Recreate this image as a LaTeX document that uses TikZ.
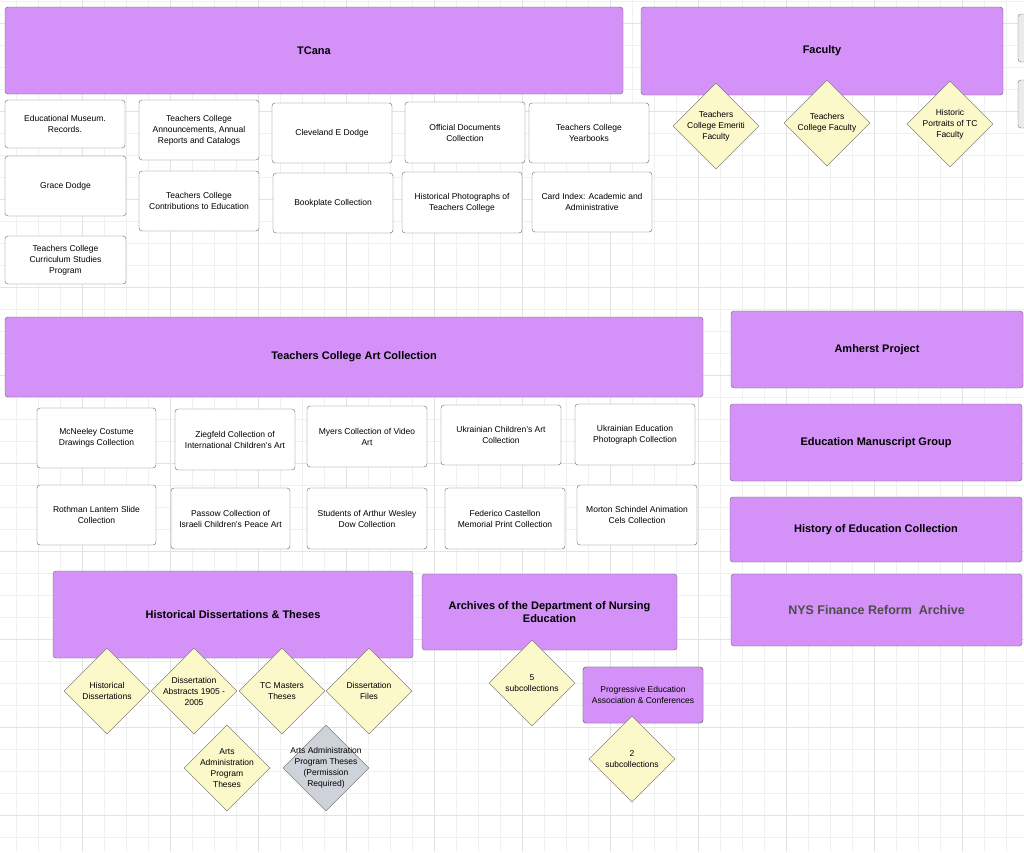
\documentclass[tikz,border=0pt]{standalone}
\usepackage{fontspec}
\setmainfont{Liberation Sans}
\usetikzlibrary{shapes.geometric}
\definecolor{purp}{HTML}{D492F9}
\definecolor{dia}{HTML}{FBF8C9}
\definecolor{gdia}{HTML}{CED3DA}
\tikzset{
 x=1pt,y=-1pt,
 big/.style={draw=black!60,fill=purp,rounded corners=3pt,font=\bfseries\fontsize{11}{13}\selectfont,align=center},
 sm/.style={draw=black!60,fill=white,rounded corners=3pt,font=\fontsize{8.5}{11}\selectfont,align=center},
 dm/.style={draw=black!60,fill=dia,diamond,minimum width=86pt,minimum height=86pt,inner sep=-30pt,font=\fontsize{8.5}{11}\selectfont,align=center},
}
\newcommand\bx[6]{\node[#1,minimum width=#4-#2,minimum height=#5-#3,inner sep=1pt] (#6) at ({(#2+#4)/2},{(#3+#5)/2})}
\begin{document}
\begin{tikzpicture}
\useasboundingbox (0,0) rectangle (1024,852);
\fill[white] (0,0) rectangle (1024,852);
\foreach \i in {0,...,46} {\pgfmathsetmacro\xx{16.7+22*\i}\draw[black!6,line width=.7pt] (\xx,0) -- (\xx,852);}
\foreach \i in {0,...,38} {\pgfmathsetmacro\yy{1+22*\i}\draw[black!6,line width=.7pt] (0,\yy) -- (1024,\yy);}
\foreach \i in {0,...,11} {\pgfmathsetmacro\xx{82.7+88*\i}\draw[black!11,line width=.7pt] (\xx,0) -- (\xx,852);}
\foreach \i in {0,...,9} {\pgfmathsetmacro\yy{23+88*\i}\draw[black!11,line width=.7pt] (0,\yy) -- (1024,\yy);}
\draw[black!55,fill=black!8,rounded corners=3pt] (1018,14) rectangle (1030,62);
\draw[black!55,fill=black!8,rounded corners=3pt] (1018,80) rectangle (1030,128);
\bx{big}{5}{7}{623}{94}{tcana} {TCana};
\bx{big}{641}{7}{1003}{95}{fac} {Faculty};
\bx{sm}{5}{100}{125}{148}{a1} {Educational Museum.\\Records.};
\bx{sm}{5}{156}{126}{216}{a2} {Grace Dodge};
\bx{sm}{5}{236}{126}{284}{a3} {Teachers College\\Curriculum Studies\\Program};
\bx{sm}{139}{100}{259}{160}{b1} {Teachers College\\Announcements, Annual\\Reports and Catalogs};
\bx{sm}{139}{171}{259}{231}{b2} {Teachers College\\Contributions to Education};
\bx{sm}{272}{103}{392}{163}{c1} {Cleveland E Dodge};
\bx{sm}{273}{173}{393}{233}{c2} {Bookplate Collection};
\bx{sm}{405}{102}{525}{163}{d1} {Official Documents\\Collection};
\bx{sm}{402}{172}{522}{233}{d2} {Historical Photographs of\\Teachers College};
\bx{sm}{529}{103}{649}{163}{e1} {Teachers College\\Yearbooks};
\bx{sm}{532}{172}{652}{232}{e2} {Card Index: Academic and\\Administrative};
\node[dm] (f1) at (716,126) {Teachers\\College Emeriti\\Faculty};
\node[dm] (f2) at (827,123) {Teachers\\College Faculty};
\node[dm] (f3) at (950,124) {Historic\\Portraits of TC\\Faculty};
\bx{big}{5}{317}{703}{397}{art} {Teachers College Art Collection};
\bx{big}{731}{311}{1023}{388}{amh} {Amherst Project};
\bx{big}{730}{404}{1022}{481}{emg} {Education Manuscript Group};
\bx{big}{730}{497}{1022}{562}{hec} {History of Education Collection};
\node[draw=black!60,fill=purp,rounded corners=3pt,font=\bfseries\fontsize{12.5}{14}\selectfont,text=black!70,minimum width=291,minimum height=72] (nys) at (876.5,610) {NYS Finance Reform\ \ Archive};
\bx{sm}{37}{408}{156}{468}{g1} {McNeeley Costume\\Drawings Collection};
\bx{sm}{175}{409}{295}{470}{g2} {Ziegfeld Collection of\\International Children's Art};
\bx{sm}{307}{406}{427}{467}{g3} {Myers Collection of Video\\Art};
\bx{sm}{441}{405}{561}{465}{g4} {Ukrainian Children's Art\\Collection};
\bx{sm}{575}{404}{695}{465}{g5} {Ukrainian Education\\Photograph Collection};
\bx{sm}{37}{485}{156}{545}{h1} {Rothman Lantern Slide\\Collection};
\bx{sm}{171}{488}{290}{549}{h2} {Passow Collection of\\Israeli Children's Peace Art};
\bx{sm}{307}{488}{427}{549}{h3} {Students of Arthur Wesley\\Dow Collection};
\bx{sm}{445}{488}{565}{549}{h4} {Federico Castellon\\Memorial Print Collection};
\bx{sm}{577}{485}{697}{545}{h5} {Morton Schindel Animation\\Cels Collection};
\bx{big}{53}{571}{413}{658}{hdt} {Historical Dissertations \& Theses};
\bx{big}{422}{574}{677}{650}{nur} {Archives of the Department of Nursing\\Education};
\node[dm] (i1) at (107,691) {Historical\\Dissertations};
\node[dm] (i2) at (194,691) {Dissertation\\Abstracts 1905 -\\2005};
\node[dm] (i3) at (282,691) {TC Masters\\Theses};
\node[dm] (i4) at (369,691) {Dissertation\\Files};
\node[dm] (i5) at (227,768) {Arts\\Administration\\Program\\Theses};
\node[dm,fill=gdia] (i6) at (326,768) {Arts Administration\\Program Theses\\(Permission\\Required)};
\node[dm] (j1) at (532,683) {5\\subcollections};
\bx{sm}{583}{667}{703}{723}{pea} {Progressive Education\\Association \& Conferences};
\node[draw=black!60,fill=purp,rounded corners=3pt,font=\fontsize{8.5}{11}\selectfont,align=center,minimum width=120,minimum height=56,inner sep=1pt] (pea2) at (643,695) {Progressive Education\\Association \& Conferences};
\node[dm] (j2) at (632,759) {2\\subcollections};
\end{tikzpicture}
\end{document}
